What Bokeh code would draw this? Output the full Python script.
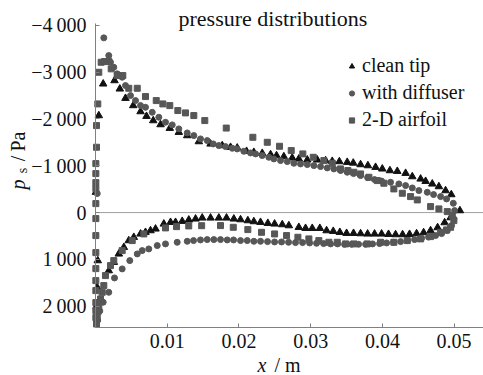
import math
from bokeh.plotting import figure
from bokeh.models import Range1d, FixedTicker, Label, Legend, LegendItem, LinearAxis
from bokeh.embed import file_html
from bokeh.resources import INLINE

# ---------------- data (x in m, ps in Pa) ----------------
clean_tip_x = [
    0.00005, 0.00046, 0.00107, 0.00265, 0.00339, 0.00418, 0.00526, 0.00628, 0.00711, 0.00805,
    0.00907, 0.01036, 0.01162, 0.01279, 0.01441, 0.01604, 0.01767, 0.01883, 0.01976, 0.02106,
    0.02208, 0.02325, 0.02441, 0.02524, 0.02626, 0.02743, 0.02835, 0.02953, 0.03092, 0.03208,
    0.03301, 0.03400, 0.03510, 0.03594, 0.03696, 0.03798, 0.03905, 0.03999, 0.04105, 0.04208,
    0.04324, 0.04417, 0.04533, 0.04603, 0.04696, 0.04788, 0.04881, 0.04961, 0.05081,
    # lower surface
    0.04951, 0.04868, 0.04770, 0.04672, 0.04575, 0.04477, 0.04379, 0.04282, 0.04184, 0.04086,
    0.03989, 0.03891, 0.03794, 0.03696, 0.03598, 0.03501, 0.03407, 0.03315, 0.03222, 0.03128,
    0.03022, 0.02929, 0.02835, 0.02696, 0.02604, 0.02497, 0.02403, 0.02301, 0.02208, 0.02124,
    0.02022, 0.01929, 0.01827, 0.01720, 0.01604, 0.01488, 0.01395, 0.01301, 0.01209, 0.01116,
    0.01046, 0.00953, 0.00837, 0.00767, 0.00697, 0.00628, 0.00534, 0.00464, 0.00395, 0.00325,
    0.00255, 0.00185, 0.00032, 0.00025, 0.00015,
]
clean_tip_p = [
    -436, -2073, -2750, -2821, -2643, -2443, -2287, -2158, -2058, -1966,
    -1880, -1802, -1716, -1645, -1517, -1467, -1432, -1396, -1382, -1310,
    -1289, -1268, -1240, -1218, -1197, -1168, -1147, -1126, -1126, -1111,
    -1097, -1090, -1076, -1060, -1026, -1004, -969, -934, -898, -883,
    -841, -769, -719, -669, -613, -556, -470, -385, -43,
    107, 214, 320, 385, 427, 449, 463, 470, 470, 463,
    456, 456, 456, 449, 442, 442, 421, 399, 385, 335,
    335, 335, 314, 278, 256, 242, 228, 207, 192, 171,
    150, 135, 114, 114, 114, 114, 135, 157, 185, 207,
    207, 242, 349, 385, 421, 456, 527, 598, 741, 883,
    1061, 1240, 1026, 1600, 2000,
]

diffuser_x = [
    0.00024, 0.00116, 0.00185, 0.00209, 0.00255, 0.00303, 0.00372, 0.00418, 0.00488, 0.00558,
    0.00628, 0.00697, 0.00791, 0.00883, 0.00976, 0.01070, 0.01162, 0.01279, 0.01371, 0.01464,
    0.01558, 0.01642, 0.01720, 0.01813, 0.01907, 0.01976, 0.02068, 0.02162, 0.02232, 0.02325,
    0.02417, 0.02487, 0.02580, 0.02674, 0.02766, 0.02859, 0.02953, 0.03045, 0.03138, 0.03232,
    0.03324, 0.03417, 0.03510, 0.03598, 0.03696, 0.03794, 0.03891, 0.03989, 0.04114, 0.04230,
    0.04324, 0.04417, 0.04509, 0.04626, 0.04714, 0.04812, 0.04895, 0.04989, 0.05007,
    # lower surface
    0.04997, 0.04965, 0.04905, 0.04826, 0.04742, 0.04644, 0.04547, 0.04449, 0.04351, 0.04254,
    0.04156, 0.04059, 0.03961, 0.03863, 0.03766, 0.03668, 0.03570, 0.03473, 0.03375, 0.03278,
    0.03180, 0.03082, 0.02985, 0.02887, 0.02789, 0.02692, 0.02594, 0.02497, 0.02399, 0.02301,
    0.02208, 0.02116, 0.02022, 0.01925, 0.01837, 0.01743, 0.01650, 0.01558, 0.01464, 0.01367,
    0.01279, 0.01139, 0.00976, 0.00861, 0.00743, 0.00651, 0.00582, 0.00478, 0.00372, 0.00265,
    0.00185, 0.00107, 0.00060, 0.00030,
]
diffuser_p = [
    -406, -3733, -3355, -3212, -3105, -2964, -2892, -2714, -2500, -2393,
    -2287, -2250, -2143, -2037, -1930, -1874, -1788, -1702, -1645, -1574,
    -1538, -1467, -1432, -1410, -1374, -1360, -1310, -1275, -1254, -1218,
    -1182, -1147, -1111, -1090, -1054, -1040, -1026, -1004, -983, -955,
    -934, -898, -862, -834, -791, -748, -705, -673, -648, -613,
    -577, -527, -470, -434, -385, -342, -292, -199, -43,
    135, 278, 385, 449, 491, 524, 549, 577, 598, 620,
    634, 648, 662, 669, 677, 677, 677, 677, 669, 669,
    662, 656, 648, 641, 641, 634, 627, 627, 620, 613,
    613, 598, 598, 584, 584, 577, 577, 577, 584, 598,
    613, 634, 669, 705, 776, 812, 883, 1026, 1203, 1396,
    1703, 1916, 2100, 2300,
]

airfoil_x = [
    0.00005, 0.00005, 0.00005, 0.00005, 0.00005, 0.00005, 0.00014, 0.00014, 0.00032, 0.00046,
    0.00079, 0.00126, 0.00185, 0.00219, 0.00303, 0.00381, 0.00464, 0.00582, 0.00697, 0.00847,
    0.00939, 0.01036, 0.01148, 0.01255, 0.01371, 0.01524, 0.01823, 0.02194, 0.02395, 0.02566,
    0.02729, 0.02891, 0.03036, 0.03184, 0.03301, 0.03417, 0.03519, 0.03603, 0.03696, 0.03812,
    0.03929, 0.04021, 0.04160, 0.04278, 0.04393, 0.04487, 0.04672, 0.04788, 0.04905, 0.04975,
    # lower surface
    0.04997, 0.04951, 0.04895, 0.04812, 0.04672, 0.04533, 0.04347, 0.04160, 0.03975, 0.03789,
    0.03603, 0.03487, 0.03371, 0.03254, 0.03114, 0.02975, 0.02822, 0.02664, 0.02497, 0.02315,
    0.02124, 0.01921, 0.01743, 0.01480, 0.01300, 0.01130, 0.00976, 0.00674, 0.00512, 0.00372,
    0.00255, 0.00209, 0.00139, 0.00116, 0.00093, 0.00070, 0.00046, 0.00032, 0.00024, 0.00014,
    0.00005, 0.00005, 0.00005, 0.00005, 0.00005, 0.00005, 0.00005, 0.00005,
]
airfoil_p = [
    -1047, -833, -641, -513, -192, 128, -1396, -1859, -2322, -2998,
    -3212, -3227, -3227, -3071, -2928, -2928, -2656, -2656, -2479, -2393,
    -2322, -2286, -2180, -2130, -2073, -1966, -1806, -1609, -1502, -1417,
    -1325, -1254, -1182, -1111, -1054, -934, -898, -862, -826, -755,
    -684, -627, -506, -413, -342, -271, -128, -79, -21, 64,
    171, 314, 370, 421, 513, 562, 598, 634, 634, 669,
    669, 669, 634, 634, 598, 562, 527, 491, 456, 421,
    363, 314, 278, 280, 285, 300, 327, 456, 598, 812,
    1026, 1133, 1346, 1560, 1703, 1845, 1988, 2131, 2272, 2380,
    491, 855, 1197, 1453, 1667, 1923, 2094, 2244,
]

x_ticks = [0.01, 0.02, 0.03, 0.04, 0.05]
x_tick_labels = ["0.01", "0.02", "0.03", "0.04", "0.05"]
y_ticks = [-4000, -3000, -2000, -1000, 0, 1000, 2000]
y_tick_labels = ["\u22124\u2009000", "\u22123\u2009000", "\u22122\u2009000", "\u22121\u2009000",
                 "0", "1\u2009000", "2\u2009000"]
series_names = ["clean tip", "with diffuser", "2-D airfoil"]
title_text = "pressure distributions"

# axis extents (data)
X_MIN, X_MAX = 0.0, 0.0541
P_TOP, P_BOTTOM = -4040, 2455

# ---------------- figure ----------------
# The frame fills the whole canvas; the axes are pinned with fixed_location.
SERIF = "Liberation Serif"
W, H = 483, 375
FRAME_L, FRAME_T, FRAME_B = 95, 23, 327
xs = (X_MAX - X_MIN) / (W - FRAME_L)          # data per px (x)
ys = (P_BOTTOM - P_TOP) / (FRAME_B - FRAME_T)  # data per px (y)
x_range = Range1d(X_MIN - FRAME_L * xs, X_MAX)
y_range = Range1d(P_BOTTOM + (H - FRAME_B) * ys, P_TOP - FRAME_T * ys)

p = figure(width=W, height=H, output_backend="svg", toolbar_location=None,
           x_range=x_range, y_range=y_range, x_axis_location=None, y_axis_location=None,
           min_border=0)
p.outline_line_color = None
p.xgrid.visible = False
p.ygrid.visible = False
p.background_fill_color = "white"
p.border_fill_color = "white"

xaxis = LinearAxis(fixed_location=P_BOTTOM, bounds=(X_MIN, X_MAX),
                   ticker=FixedTicker(ticks=x_ticks),
                   major_label_overrides=dict(zip(x_ticks, x_tick_labels)),
                   major_label_standoff=6)
yaxis = LinearAxis(fixed_location=X_MIN, bounds=(P_TOP, P_BOTTOM),
                   ticker=FixedTicker(ticks=y_ticks),
                   major_label_overrides=dict(zip(y_ticks, y_tick_labels)),
                   major_label_standoff=9)
for ax in (xaxis, yaxis):
    ax.axis_line_color = "#808080"
    ax.major_tick_line_color = "#808080"
    ax.major_tick_in = 4
    ax.major_tick_out = 0
    ax.minor_tick_line_color = None
    ax.major_label_text_font = SERIF
    ax.major_label_text_font_size = "20px"
    ax.major_label_text_color = "#111111"
p.add_layout(xaxis, "below")
p.add_layout(yaxis, "left")

# zero reference line
p.segment(x0=X_MIN, y0=0, x1=X_MAX, y1=0, line_color="#a0a0a0", line_width=1)

r1 = p.scatter(clean_tip_x, clean_tip_p, marker="triangle", size=7.5,
               fill_color="#111111", line_color="#111111")
r2 = p.scatter(diffuser_x, diffuser_p, marker="circle", size=6,
               fill_color="#575757", line_color="#575757")
r3 = p.scatter(airfoil_x, airfoil_p, marker="square", size=6,
               fill_color="#575757", line_color="#575757")

legend = Legend(items=[LegendItem(label=series_names[0], renderers=[r1]),
                       LegendItem(label=series_names[1], renderers=[r2]),
                       LegendItem(label=series_names[2], renderers=[r3])],
                location=(345, 244), border_line_color=None, background_fill_alpha=0,
                padding=0, margin=0, spacing=4, glyph_width=13, glyph_height=20,
                label_height=20, label_standoff=4, label_text_font=SERIF,
                label_text_font_size="20px", label_text_color="#111111")
p.add_layout(legend)


def px_x(sx):
    return X_MIN + (sx - FRAME_L) * xs


def px_y(sy):
    return P_TOP + (sy - FRAME_T) * ys


def add_text(sx, sy, text, size="20px", style="normal", angle=0.0,
             align="left", baseline="alphabetic"):
    p.add_layout(Label(x=px_x(sx), y=px_y(sy), text=text, text_font=SERIF,
                       text_font_style=style, text_font_size=size, text_color="#111111",
                       angle=angle, text_align=align, text_baseline=baseline))


# title
add_text(178, 18, title_text, size="22px")

# x axis label: italic x / m
add_text(257, 364, "x", style="italic")
add_text(274, 364, "/ m")

# y axis label: italic p, subscript s, / Pa (rotated, reading upwards; centred pieces)
UP = math.pi / 2
add_text(17, 184, "p", style="italic", angle=UP, align="center", baseline="middle")
add_text(22, 170, "s", size="14px", angle=UP, align="center", baseline="middle")
add_text(17, 158, "/", angle=UP, align="center", baseline="middle")
add_text(17, 141, "Pa", angle=UP, align="center", baseline="middle")

open("out.html", "w").write(file_html(p, INLINE))
